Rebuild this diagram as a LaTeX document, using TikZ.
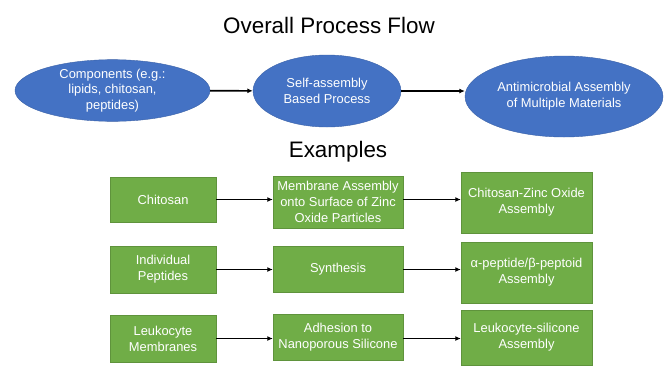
\documentclass[tikz,border=0pt]{standalone}
\usepackage{fontspec}
\setmainfont{Liberation Sans}
\usetikzlibrary{shapes.geometric,arrows.meta}
\definecolor{flowblue}{HTML}{4472C4}
\definecolor{exgreen}{HTML}{70AD47}

\begin{document}
\begin{tikzpicture}[x=1pt, y=-1pt, every node/.style={inner sep=0pt, align=center, text=white, font=\fontsize{12.9}{15.8}\selectfont},
    heading/.style={text=black, anchor=base, font=\fontsize{22.4}{26}\selectfont},
    stage/.style={ellipse, draw=flowblue!85!black, fill=flowblue},
    example/.style={draw=exgreen!85!black, fill=exgreen},
    link/.style={-{Latex[length=5.5pt,width=5pt]}, line width=1.6pt}]
        \useasboundingbox (0,0) rectangle (664,365);
        \node[heading] (T1) at (329,33) {Overall Process Flow};
        \node[heading] (T2) at (338,157) {Examples};

        \node[stage, minimum width=195, minimum height=55] (E1) at (112.5,90.5) {Components (e.g.:\\lipids, chitosan,\\peptides)};
        \node[stage, minimum width=148, minimum height=72] (E2) at (327,91) {Self-assembly\\Based Process};
        \node[stage, minimum width=198, minimum height=81] (E3) at (564,96.5) {Antimicrobial Assembly\\of Multiple Materials};

        \node[example, minimum width=106, minimum height=45] (B11) at (163,199.5) {Chitosan};
        \node[example, minimum width=130, minimum height=52] (B12) at (338,202) {Membrane Assembly\\onto Surface of Zinc\\Oxide Particles};
        \node[example, minimum width=131, minimum height=61] (B13) at (526.5,202.5) {Chitosan-Zinc Oxide\\Assembly};
        \node[example, minimum width=106, minimum height=47] (B21) at (163,269.5) {Individual\\Peptides};
        \node[example, minimum width=130, minimum height=46] (B22) at (338,269) {Synthesis};
        \node[example, minimum width=131, minimum height=61] (B23) at (526.5,272.5) {α-peptide/β-peptoid\\Assembly};
        \node[example, minimum width=106, minimum height=47] (B31) at (163,338.5) {Leukocyte\\Membranes};
        \node[example, minimum width=130, minimum height=46] (B32) at (338,337) {Adhesion to\\Nanoporous Silicone};
        \node[example, minimum width=131, minimum height=55] (B33) at (526.5,337.5) {Leukocyte-silicone\\Assembly};

        \draw[link] (E1) -- (E2);
        \draw[link] (E2.east) -- (E2.east -| E3.west);
        \draw[link] (B11.east) -- (B11.east -| B12.west);
        \draw[link] (B12.east |- B11.east) -- (B11.east -| B13.west);
        \draw[link] (B21.east) -- (B21.east -| B22.west);
        \draw[link] (B22.east |- B21.east) -- (B21.east -| B23.west);
        \draw[link] (B31.east) -- (B31.east -| B32.west);
        \draw[link] (B32.east |- B31.east) -- (B31.east -| B33.west);
    \end{tikzpicture}
\end{document}
